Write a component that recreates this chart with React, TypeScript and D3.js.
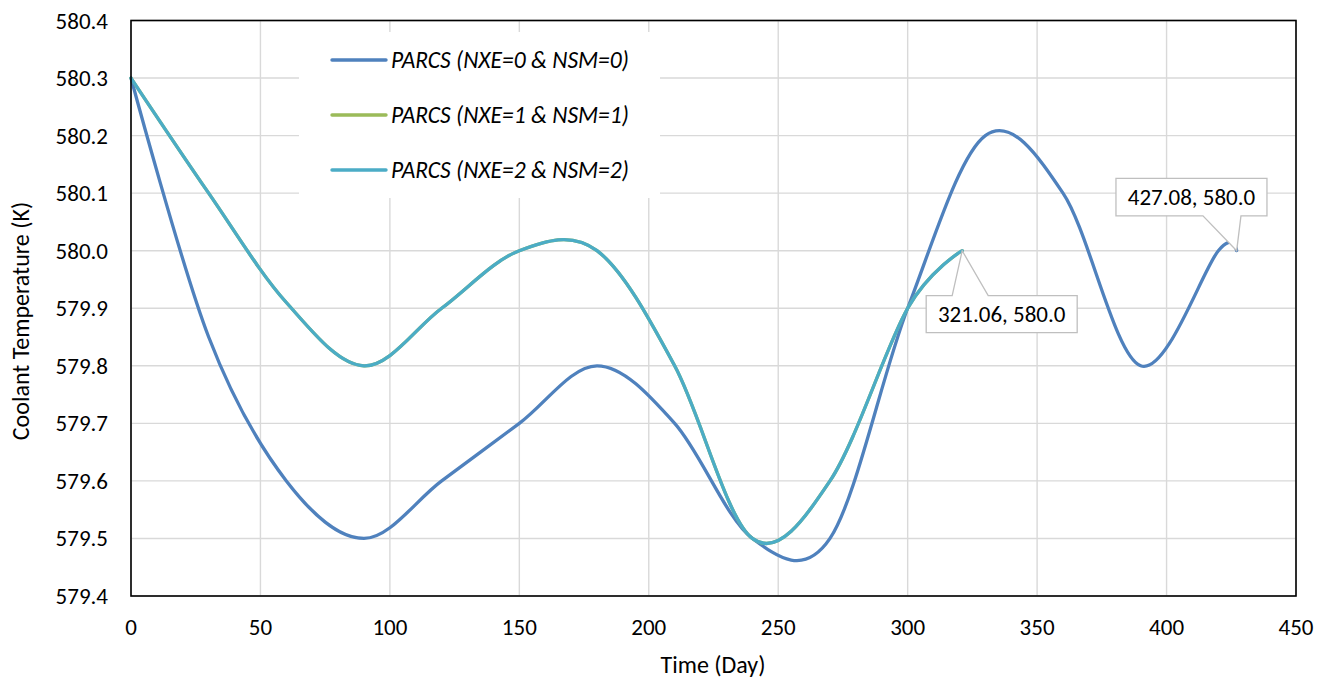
import React from "react";
import * as d3 from "d3";

// Coolant temperature history for three PARCS cross-section options
const daysNxe0 = [0, 30, 60, 90, 120, 150, 180, 210, 240, 270, 300, 330, 360, 390, 420, 427.08];
const tempNxe0 = [580.3, 579.85, 579.6, 579.5, 579.6, 579.7, 579.8, 579.7, 579.5, 579.5, 579.9, 580.2, 580.1, 579.8, 580.0, 580.0];

const daysNxe1 = [0, 30, 60, 90, 120, 150, 180, 210, 240, 270, 300, 321.06];
const tempNxe1 = [580.3, 580.1, 579.91, 579.8, 579.9, 580.0, 580.0, 579.8, 579.5, 579.6, 579.9, 580.0];

const daysNxe2 = [0, 30, 60, 90, 120, 150, 180, 210, 240, 270, 300, 321.06];
const tempNxe2 = [580.3, 580.1, 579.91, 579.8, 579.9, 580.0, 580.0, 579.8, 579.5, 579.6, 579.9, 580.0];

const seriesNames = ["PARCS (NXE=0 & NSM=0)", "PARCS (NXE=1 & NSM=1)", "PARCS (NXE=2 & NSM=2)"];
const seriesColors = ["#4F81BD", "#9BBB59", "#4BACC6"];

const xTicks = [0, 50, 100, 150, 200, 250, 300, 350, 400, 450];
const yTicks = [579.4, 579.5, 579.6, 579.7, 579.8, 579.9, 580.0, 580.1, 580.2, 580.3, 580.4];

const W = 1327;
const H = 679;
const plot = { left: 131, right: 1296, top: 20.5, bottom: 596 };
const FONT = "Calibri, Carlito, Lato, sans-serif";

export default function App() {
  const x = d3.scaleLinear().domain([0, 450]).range([plot.left, plot.right]);
  const y = d3.scaleLinear().domain([579.4, 580.4]).range([plot.bottom, plot.top]);

  const line = d3
    .line<[number, number]>()
    .x((d) => x(d[0]))
    .y((d) => y(d[1]))
    .curve(d3.curveCardinal.tension(0));

  const series = [
    { days: daysNxe0, temps: tempNxe0 },
    { days: daysNxe1, temps: tempNxe1 },
    { days: daysNxe2, temps: tempNxe2 },
  ].map((s, i) => ({
    name: seriesNames[i],
    color: seriesColors[i],
    pts: s.days.map((d, j) => [d, s.temps[j]] as [number, number]),
  }));

  // callout boxes for the final point of each run
  const end0 = { d: daysNxe0[daysNxe0.length - 1], t: tempNxe0[tempNxe0.length - 1] };
  const end2 = { d: daysNxe2[daysNxe2.length - 1], t: tempNxe2[tempNxe2.length - 1] };

  const callouts = [
    {
      ax: x(end2.d),
      ay: y(end2.t),
      dx: -36,
      dy: 45,
      w: 151,
      h: 37,
      wedge: [26, 62],
      below: true,
      text: `${end2.d.toFixed(2)}, ${end2.t.toFixed(1)}`,
    },
    {
      ax: x(end0.d),
      ay: y(end0.t),
      dx: -120.7,
      dy: -72.4,
      w: 151,
      h: 37.5,
      wedge: [87, 125],
      below: false,
      text: `${end0.d.toFixed(2)}, ${end0.t.toFixed(1)}`,
    },
  ];

  const calloutPath = (c: any) => {
    const l = c.ax + c.dx;
    const t = c.ay + c.dy;
    const r = l + c.w;
    const b = t + c.h;
    const w1 = l + c.wedge[0];
    const w2 = l + c.wedge[1];
    if (c.below) {
      return `M${l},${t}L${w1},${t}L${c.ax},${c.ay}L${w2},${t}L${r},${t}L${r},${b}L${l},${b}Z`;
    }
    return `M${l},${t}L${r},${t}L${r},${b}L${w2},${b}L${c.ax},${c.ay}L${w1},${b}L${l},${b}Z`;
  };

  const legend = { x: 299, y: 32, w: 361, h: 166, rows: [60, 115, 170] };

  return (
    <div style={{ position: "absolute", left: 0, top: 0, width: W, height: H, background: "#fff" }}>
      <svg width={W} height={H} style={{ display: "block" }} fontFamily={FONT}>
        <rect x={0} y={0} width={W} height={H} fill="#fff" />
        {/* grid */}
        {xTicks.map((t) => (
          <line key={"gx" + t} x1={x(t)} x2={x(t)} y1={plot.top} y2={plot.bottom} stroke="#d9d9d9" strokeWidth={1.4} />
        ))}
        {yTicks.map((t) => (
          <line key={"gy" + t} x1={plot.left} x2={plot.right} y1={y(t)} y2={y(t)} stroke="#d9d9d9" strokeWidth={1.4} />
        ))}

        {/* legend */}
        <rect x={legend.x} y={legend.y} width={legend.w} height={legend.h} fill="#fff" />
        {series.map((s, i) => (
          <g key={"lg" + i}>
            <line x1={332} x2={386} y1={legend.rows[i]} y2={legend.rows[i]} stroke={s.color} strokeWidth={3.4} strokeLinecap="round" />
            <text x={391} y={legend.rows[i]} dominantBaseline="central" fontSize={23.5} fontStyle="italic" fill="#000">
              {s.name}
            </text>
          </g>
        ))}

        {/* series */}
        {series.map((s, i) => (
          <path key={"s" + i} d={line(s.pts) || ""} fill="none" stroke={s.color} strokeWidth={3.3} strokeLinejoin="round" strokeLinecap="round" />
        ))}

        {/* frame */}
        <rect x={plot.left} y={plot.top} width={plot.right - plot.left} height={plot.bottom - plot.top} fill="none" stroke="#000" strokeWidth={1.6} />

        {/* ticks */}
        {xTicks.map((t) => (
          <text key={"tx" + t} x={x(t)} y={627} textAnchor="middle" dominantBaseline="central" fontSize={23} fill="#000">
            {t}
          </text>
        ))}
        {yTicks.map((t) => (
          <text key={"ty" + t} x={108} y={y(t)} textAnchor="end" dominantBaseline="central" fontSize={23} fill="#000">
            {t.toFixed(1)}
          </text>
        ))}

        {/* axis titles */}
        <text x={713} y={664} textAnchor="middle" dominantBaseline="central" fontSize={24} fill="#000">
          Time (Day)
        </text>
        <text
          transform={`translate(20,321) rotate(-90)`}
          textAnchor="middle"
          dominantBaseline="central"
          fontSize={24}
          fill="#000"
        >
          Coolant Temperature (K)
        </text>

        {/* data callouts */}
        {callouts.map((c, i) => (
          <g key={"c" + i}>
            <path d={calloutPath(c)} fill="#fff" stroke="#bfbfbf" strokeWidth={1.3} />
            <text
              x={c.ax + c.dx + c.w / 2}
              y={c.ay + c.dy + c.h / 2}
              textAnchor="middle"
              dominantBaseline="central"
              fontSize={23}
              fill="#000"
            >
              {c.text}
            </text>
          </g>
        ))}
      </svg>
    </div>
  );
}
